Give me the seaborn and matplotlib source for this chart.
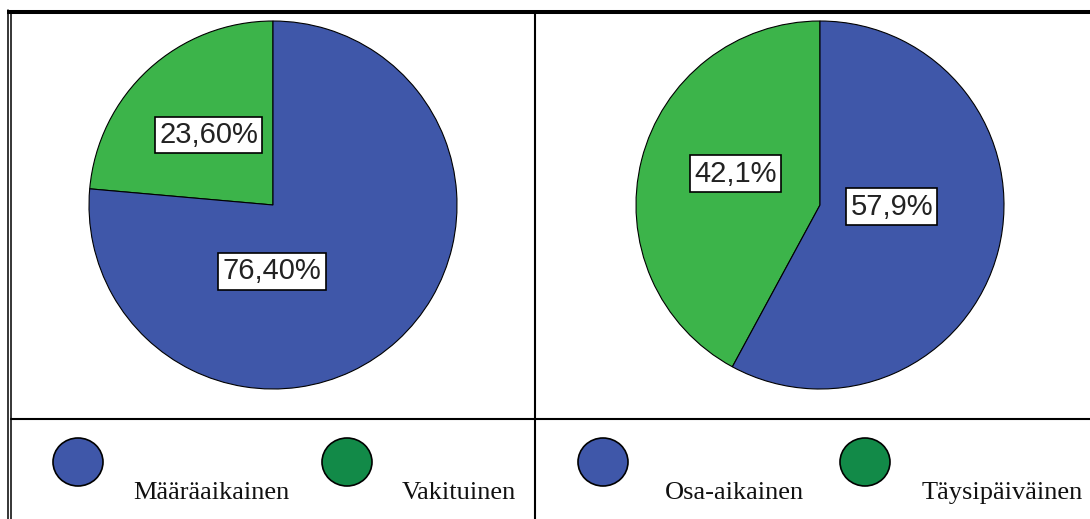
import matplotlib
matplotlib.use("Agg")
import matplotlib.pyplot as plt
from matplotlib.patches import Ellipse
import seaborn as sns

# data
left_labels = ["Vakituinen", "Määräaikainen"]
left_values = [23.6, 76.4]
left_texts = ["23,60%", "76,40%"]

right_labels = ["Täysipäiväinen", "Osa-aikainen"]
right_values = [42.1, 57.9]
right_texts = ["42,1%", "57,9%"]

pie_colors = ["#3cb44a", "#3f57a9"]      # green, blue slices
legend_colors = ["#3f57a9", "#128a48"]   # blue, dark green swatches

sns.set_theme(style="white")
plt.rcParams['font.family'] = ['Liberation Sans', 'DejaVu Sans']

W, H = 1090, 519
fig = plt.figure(figsize=(W / 100, H / 100), dpi=100)

# overlay axes in pixel coords for the table frame and legend
bg = fig.add_axes([0, 0, 1, 1])
bg.set_xlim(0, W)
bg.set_ylim(H, 0)
bg.axis("off")

bg.plot([7, W], [12, 12], color="black", lw=2.9, solid_capstyle="butt")
bg.plot([7.5, 7.5], [10, H], color="black", lw=1.1)
bg.plot([10.5, 10.5], [12, H], color="black", lw=1.1)
bg.plot([535, 535], [12, H], color="black", lw=1.5)
bg.plot([11, W], [419, 419], color="black", lw=1.5)


def draw_pie(cx, cy, r, values, texts, text_pos):
    ax = fig.add_axes([(cx - r) / W, 1 - (cy + r) / H, 2 * r / W, 2 * r / H])
    wedges, _ = ax.pie(values, colors=pie_colors, startangle=90, counterclock=True,
                       wedgeprops=dict(edgecolor="black", linewidth=0.8))
    for w in wedges:
        w.set_clip_on(False)
    ax.set_xlim(-1, 1)
    ax.set_ylim(-1, 1)
    ax.set_aspect("auto")
    for t, (x, y) in zip(texts, text_pos):
        ax.text(x, y, t, ha="center", va="center", fontsize=21, color="#222222",
                bbox=dict(boxstyle="square,pad=0.15", facecolor="white",
                          edgecolor="black", linewidth=1.2))


draw_pie(273, 205, 184, left_values, left_texts, [(-0.35, 0.38), (-0.005, -0.36)])
draw_pie(820, 205, 184, right_values, right_texts, [(-0.46, 0.17), (0.39, -0.01)])

# legend row
legend_items = [
    (78, 133, left_labels[1], legend_colors[0]),
    (347, 402, left_labels[0], legend_colors[1]),
    (603, 665, right_labels[1], legend_colors[0]),
    (865, 922, right_labels[0], legend_colors[1]),
]
for ex, tx, name, col in legend_items:
    bg.add_patch(Ellipse((ex, 462), 50, 48, facecolor=col, edgecolor="black", lw=1.2))
    bg.text(tx, 499, name, ha="left", va="baseline", fontsize=19,
            family=["Liberation Serif", "DejaVu Serif"], color="#111111")

fig.savefig("out.png", dpi=100)
